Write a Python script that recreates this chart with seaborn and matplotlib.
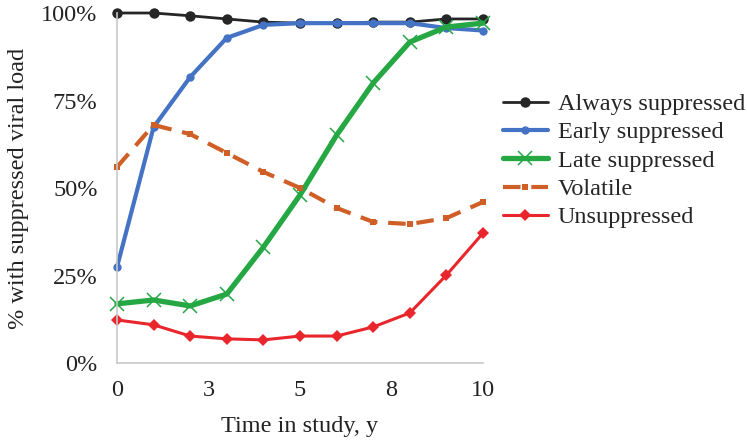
import matplotlib
matplotlib.use("Agg")
import matplotlib.pyplot as plt
import seaborn as sns
import pandas as pd
import numpy as np

years = [0, 1, 2, 3, 4, 5, 6, 7, 8, 9, 10]
always = [100, 100, 99.2, 98.3, 97.4, 97.1, 97.1, 97.4, 97.4, 98.3, 98.3]
early = [27.4, 67.4, 81.7, 92.9, 96.6, 97.1, 97.1, 97.1, 97.1, 95.7, 95.0]
late = [16.9, 18.0, 16.3, 19.7, 33.1, 48.0, 65.1, 80.0, 91.7, 96.0, 97.1]
volatile = [56.0, 68.0, 65.4, 60.0, 54.6, 50.0, 44.3, 40.3, 39.7, 41.4, 46.0]
unsupp = [12.3, 10.9, 7.7, 6.9, 6.6, 7.7, 7.7, 10.3, 14.3, 25.1, 37.1]

series_names = ["Always suppressed", "Early suppressed", "Late suppressed", "Volatile", "Unsuppressed"]
xtick_pos = [0, 2.5, 5, 7.5, 10]
xtick_labels = ["0", "3", "5", "8", "10"]
ytick_pos = [0, 25, 50, 75, 100]
ytick_labels = ["0%", "25%", "50%", "75%", "100%"]

sns.set_theme(style="white")
plt.rcParams["font.family"] = ["Liberation Serif", "DejaVu Serif"]

FS = 17.5
fig = plt.figure(figsize=(7.47, 4.41), dpi=100)
fig.patch.set_facecolor("white")
ax = fig.add_axes([117/747, 1-363/441, (483-117)/747, (363-13)/441])

styles = [
    dict(color="#262626", marker="o", markersize=7.5, linewidth=2.0, linestyle="-", mew=0),
    dict(color="#4472C4", marker="o", markersize=6, linewidth=3.0, linestyle="-", mew=0),
    dict(color="#25A844", marker="x", markersize=10, linewidth=3.8, linestyle="-", mew=1.1),
    dict(color="#CF5F26", marker="s", markersize=4.5, linewidth=3.0, linestyle=(0, (4.2, 2.6)), mew=0),
    dict(color="#E8262B", marker="D", markersize=6, linewidth=2.2, linestyle="-", mew=0),
]
data = [always, early, late, volatile, unsupp]

handles = []
for name, vals, st in zip(series_names, data, styles):
    df = pd.DataFrame({"x": years, "y": vals})
    sns.lineplot(data=df, x="x", y="y", ax=ax, color=st["color"], marker=st["marker"],
                 markersize=st["markersize"], linewidth=st["linewidth"],
                 linestyle=st["linestyle"], markeredgewidth=st["mew"],
                 markeredgecolor=st["color"], clip_on=False, label=name, legend=False)
    h, = ax.plot([], [], color=st["color"], marker=st["marker"], markersize=st["markersize"],
                 linewidth=st["linewidth"], linestyle=st["linestyle"], markeredgewidth=st["mew"],
                 markeredgecolor=st["color"])
    handles.append(h)

ax.set_xlim(0, 10)
ax.set_ylim(0, 100)
ax.set_xticks(xtick_pos)
ax.set_xticklabels(xtick_labels)
ax.set_yticks(ytick_pos)
ax.set_yticklabels(ytick_labels)
ax.tick_params(axis="both", labelsize=FS, length=0, colors="#222222")
ax.tick_params(axis="x", pad=12)
ax.tick_params(axis="y", pad=14)
ax.set_xlabel("Time in study, y", fontsize=FS, labelpad=11, color="#222222")
ax.set_ylabel("% with suppressed viral load", fontsize=FS, labelpad=9, color="#222222")
for s in ["top", "right"]:
    ax.spines[s].set_visible(False)
for s in ["left", "bottom"]:
    ax.spines[s].set_color("#c8c8c8")
    ax.spines[s].set_linewidth(1.2)
ax.set_facecolor("white")
ax.grid(False)

fig.legend(handles, series_names, loc="upper left", bbox_to_anchor=(503/747, 1-93/441),
           frameon=False, fontsize=FS, handlelength=1.85, handletextpad=0.4,
           labelspacing=0.26, borderaxespad=0, borderpad=0)

fig.savefig("out.png", dpi=100)
